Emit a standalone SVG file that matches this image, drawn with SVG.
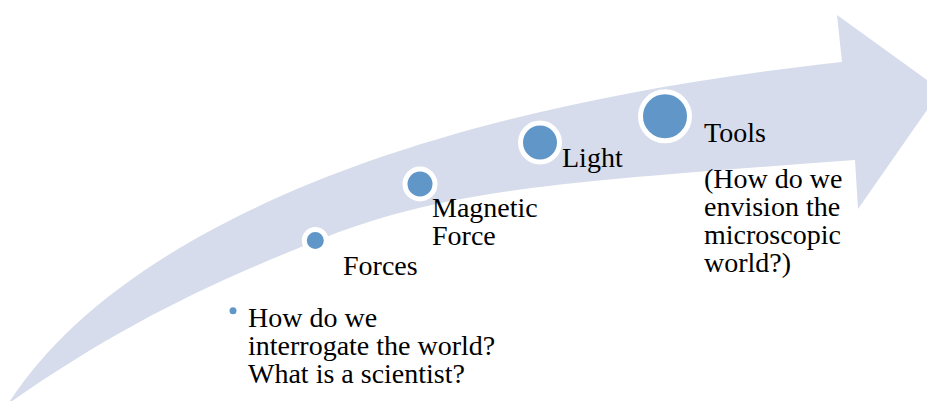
<svg xmlns="http://www.w3.org/2000/svg" width="927" height="401" viewBox="0 0 927 401">
<style>
text{font-family:'Liberation Serif','Times New Roman',Tinos,Times,'DejaVu Serif',serif;font-size:28px;fill:#000}
.dot{fill:#6196C9;stroke:#fff;stroke-width:5}
</style>
<rect width="927" height="401" fill="#fff"/>
<g id="arrow">
<path d="M8,404 C110,245 380,112 842,62 L837,15 L941,90 L858,209 L855,160 C555,182.5 446,189 316,241 C206,285 118,327 8,404 Z" fill="#D6DCEB"/>
</g>
<g id="connectors"></g>
<g id="node-forces">
<circle class="dot" cx="315.3" cy="240.5" r="11"/>
<text x="343" y="275">Forces</text>
</g>
<g id="node-magnetic">
<circle class="dot" cx="420" cy="184" r="15"/>
<text x="432" y="217">Magnetic</text>
<text x="432" y="245">Force</text>
</g>
<g id="node-light">
<circle class="dot" cx="540" cy="142.5" r="19.5"/>
<text x="562" y="167">Light</text>
</g>
<g id="node-tools">
<circle class="dot" cx="665" cy="116.3" r="24.5"/>
<text x="704" y="142">Tools</text>
<text x="704" y="188">(How do we</text>
<text x="704" y="216">envision the</text>
<text x="704" y="244">microscopic</text>
<text x="704" y="272">world?)</text>
</g>
<g id="node-question">
<circle cx="233" cy="310.7" r="3.5" fill="#6196C9"/>
<text x="248" y="327">How do we</text>
<text x="248" y="355">interrogate the world?</text>
<text x="248" y="383">What is a scientist?</text>
</g>
</svg>
